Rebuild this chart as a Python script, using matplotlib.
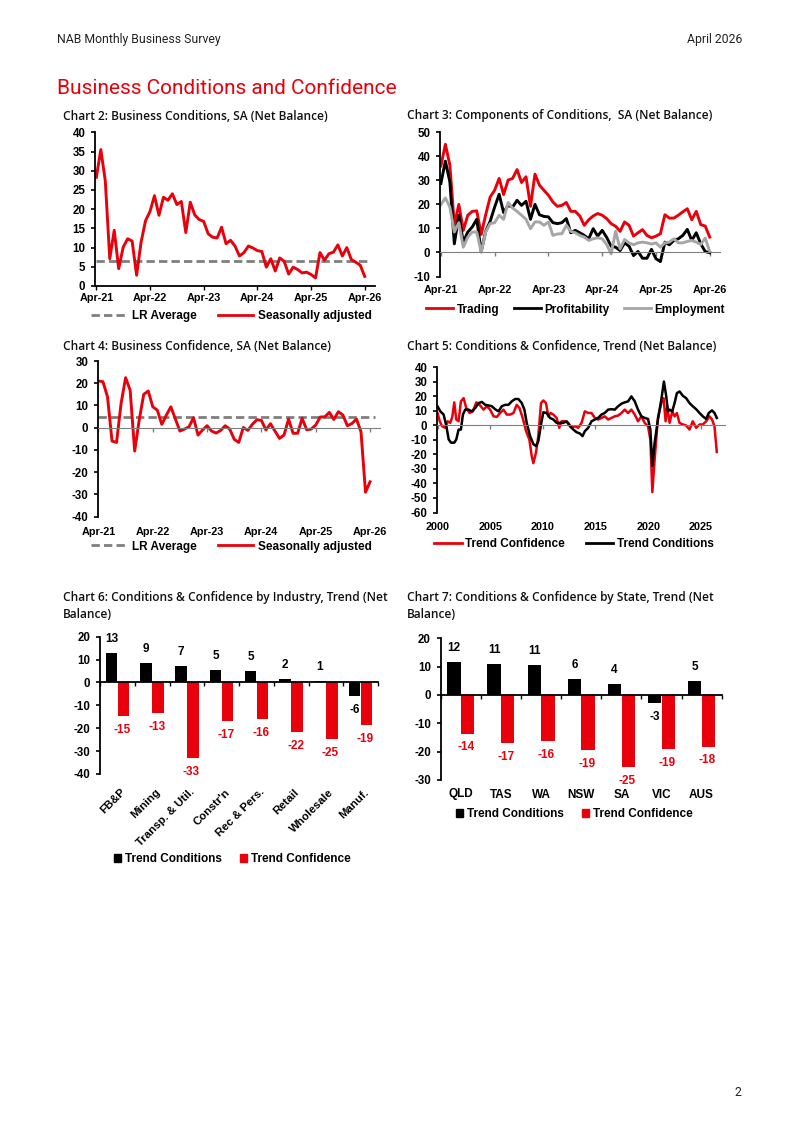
import matplotlib
matplotlib.use('Agg')
import matplotlib.pyplot as plt
import matplotlib.transforms as mtransforms
from matplotlib.lines import Line2D
from matplotlib.patches import Patch
import numpy as np

W, H = 800, 1130
RED = '#e8000b'
GREY = '#7f7f7f'
LIGHT = '#a6a6a6'

# ---- data ----
month_labels = ['Apr-21', 'Apr-22', 'Apr-23', 'Apr-24', 'Apr-25', 'Apr-26']

conditions_sa = [28.3, 35.5, 27.4, 7.1, 14.5, 4.5, 10.1, 12.3, 11.7, 2.8,
                 11.4, 17.0, 19.4, 23.5, 18.4, 23.1, 22.3, 24.0, 21.2, 22.0,
                 13.9, 21.8, 18.5, 17.3, 16.8, 13.6, 12.7, 12.5, 15.3, 11.0,
                 11.9, 10.4, 7.8, 8.7, 10.4, 9.9, 9.2, 9.0, 4.9, 7.1,
                 3.9, 7.3, 6.4, 3.1, 4.9, 4.3, 3.4, 3.6, 3.0, 2.1,
                 8.7, 6.7, 8.4, 8.8, 10.7, 7.8, 10.0, 6.9, 6.2, 5.4,
                 2.5]
conditions_lr_avg = 6.6

trading = [36.0, 45.0, 36.4, 11.3, 20.0, 9.2, 15.5, 17.1, 17.3, 7.5,
           15.7, 23.1, 25.9, 30.8, 24.1, 30.1, 30.8, 34.5, 29.1, 31.5,
           19.2, 32.6, 28.0, 25.9, 23.8, 21.0, 19.2, 19.6, 20.8, 17.1,
           17.1, 15.2, 11.3, 13.6, 15.2, 16.2, 15.5, 14.1, 12.0, 10.9,
           8.8, 12.7, 11.3, 6.8, 8.2, 9.5, 7.1, 6.1, 6.8, 7.8,
           15.7, 14.3, 14.3, 15.5, 16.9, 18.2, 13.6, 17.1, 11.6, 11.0,
           6.4]
profitability = [28.7, 38.0, 29.4, 3.6, 15.5, 4.3, 8.5, 10.6, 13.8, 0.4,
                 8.8, 13.0, 18.9, 24.2, 16.6, 19.6, 18.9, 21.7, 19.6, 21.3,
                 13.8, 20.0, 15.7, 15.0, 14.8, 12.4, 12.0, 12.4, 14.1, 8.2,
                 9.2, 8.2, 7.1, 5.7, 9.9, 6.8, 9.2, 6.3, 2.6, 2.2,
                 0.8, 4.0, 2.6, -1.3, 0.4, -2.4, -2.4, 1.3, -2.6, -3.8,
                 4.3, 3.2, 5.0, 5.7, 7.1, 9.6, 5.0, 8.2, 3.6, 0.4,
                 -0.1]
employment = [19.9, 22.7, 18.9, 8.5, 12.4, 2.2, 6.4, 8.5, 8.5, 0.1,
              8.5, 12.0, 12.4, 15.5, 13.8, 20.8, 18.5, 17.1, 15.5, 13.8,
              9.9, 12.7, 12.7, 11.3, 12.7, 7.1, 7.7, 7.8, 11.3, 8.8,
              8.2, 7.1, 6.4, 5.0, 5.7, 6.1, 5.7, 3.3, -0.6, 8.8,
              1.5, 5.4, 4.0, 3.2, 4.0, 4.3, 4.0, 3.5, 4.0, 2.2,
              4.0, 4.3, 5.7, 4.0, 4.0, 4.6, 5.0, 4.3, 3.3, 6.0,
              0.4]

confidence_sa = [21.0, 20.7, 13.9, -6.0, -6.6, 10.9, 22.5, 16.9, -10.5, 3.4,
                 15.0, 16.5, 9.4, 7.9, 1.5, 5.7, 9.4, 3.9, -1.5, -0.6,
                 0.4, 4.5, -3.3, -1.0, 0.9, -1.5, -2.4, -1.2, 0.9, -0.6,
                 -5.2, -6.6, 0.1, -1.2, 1.5, 3.6, 3.3, -1.0, 1.8, -1.5,
                 -4.8, -3.3, 3.9, -2.5, -2.5, 4.2, -0.9, -0.6, 1.2, 4.8,
                 4.9, 6.9, 3.7, 7.2, 5.7, 0.9, 1.9, 3.9, -1.8, -29.0,
                 -24.3]
confidence_lr_avg = 4.8

trend_year_labels = [2000, 2005, 2010, 2015, 2020, 2025]
trend_conf_years = [2000.0, 2000.21, 2000.43, 2000.74, 2000.96, 2001.21, 2001.40, 2001.59, 2001.78, 2002.0,
                    2002.22, 2002.48, 2002.73, 2003.04, 2003.36, 2003.68, 2003.99, 2004.37, 2004.68, 2005.0,
                    2005.32, 2005.63, 2005.95, 2006.26, 2006.58, 2006.89, 2007.21, 2007.52, 2007.78, 2008.09,
                    2008.41, 2008.72, 2008.94, 2009.10, 2009.35, 2009.57, 2009.83, 2010.05, 2010.30, 2010.52,
                    2010.74, 2011.0, 2011.31, 2011.56, 2011.78, 2012.10, 2012.41, 2012.73, 2013.04, 2013.36,
                    2013.68, 2013.99, 2014.31, 2014.62, 2014.94, 2015.25, 2015.57, 2015.88, 2016.20, 2016.52,
                    2016.83, 2017.15, 2017.47, 2017.78, 2018.10, 2018.41, 2018.73, 2019.04, 2019.36, 2019.67,
                    2019.99, 2020.21, 2020.40, 2020.62, 2020.93, 2021.25, 2021.47, 2021.66, 2021.82, 2022.04,
                    2022.29, 2022.51, 2022.73, 2022.98, 2023.30, 2023.61, 2023.93, 2024.24, 2024.56, 2024.88,
                    2025.19, 2025.51, 2025.82, 2026.07, 2026.30, 2026.52]
trend_conf = [8.4, 2.7, -0.7, -1.8, 2.7, 1.6, 5.7, 15.7, 3.9, 2.7,
              16.4, 18.6, 11.8, 8.4, 9.5, 15.7, 14.0, 10.7, 13.0, 10.7,
              6.1, 5.7, 8.4, 10.7, 7.3, 7.3, 8.4, 14.0, 11.8, 5.0,
              -4.1, -9.8, -21.0, -26.1, -18.9, -7.5, 15.2, 17.0, 15.2, 6.1,
              8.4, 7.3, 5.0, -1.8, 2.7, 2.7, 1.6, -1.8, -0.7, -1.8,
              1.6, 9.5, 8.4, 8.4, 5.0, 3.9, 5.0, 6.1, 3.9, 5.0,
              6.1, 6.6, 8.4, 10.7, 8.4, 10.7, 7.3, 2.7, 6.1, 1.6,
              -0.7, -9.8, -46.0, -23.4, 5.0, 15.2, 18.6, 2.7, 13.0, 1.6,
              9.5, 6.1, 8.4, 1.6, 0.5, -0.2, -3.0, 2.7, -1.8, 0.5,
              0.5, 2.7, 6.1, 3.9, -0.7, -18.4]
trend_cond_years = [2000.0, 2000.27, 2000.58, 2000.84, 2001.06, 2001.28, 2001.59, 2001.78, 2002.0, 2002.22,
                    2002.41, 2002.63, 2002.95, 2003.26, 2003.58, 2003.90, 2004.21, 2004.53, 2004.84, 2005.16,
                    2005.47, 2005.79, 2006.10, 2006.42, 2006.74, 2007.05, 2007.37, 2007.68, 2008.0, 2008.25,
                    2008.47, 2008.79, 2009.10, 2009.35, 2009.57, 2009.83, 2010.05, 2010.36, 2010.68, 2011.0,
                    2011.31, 2011.63, 2011.95, 2012.26, 2012.58, 2012.90, 2013.20, 2013.52, 2013.77, 2013.99,
                    2014.31, 2014.62, 2014.94, 2015.25, 2015.57, 2015.88, 2016.20, 2016.52, 2016.83, 2017.15,
                    2017.47, 2017.78, 2018.10, 2018.41, 2018.73, 2019.04, 2019.36, 2019.67, 2019.99, 2020.21,
                    2020.40, 2020.62, 2020.93, 2021.25, 2021.50, 2021.72, 2021.88, 2022.04, 2022.29, 2022.51,
                    2022.73, 2022.98, 2023.30, 2023.61, 2023.93, 2024.24, 2024.56, 2024.88, 2025.19, 2025.51,
                    2025.76, 2026.07, 2026.30, 2026.52]
trend_cond = [13.0, 9.5, 7.3, -0.7, -9.8, -12.0, -12.0, -9.8, -3.0, -3.0,
              7.3, 10.7, 10.7, 9.5, 11.8, 15.2, 16.0, 14.0, 13.6, 13.0,
              11.0, 9.5, 13.0, 14.0, 14.0, 16.4, 18.0, 18.0, 15.2, 10.7,
              1.6, -7.5, -13.0, -14.3, -11.0, 0.5, 8.9, 8.4, 5.0, 3.9,
              1.6, 1.6, 1.6, 2.7, -0.7, -3.0, -4.8, -5.7, -7.5, -4.1,
              -1.8, 2.7, 3.9, 5.0, 7.3, 8.4, 10.7, 11.0, 10.7, 13.0,
              14.8, 15.7, 16.4, 19.8, 16.4, 10.7, 6.1, 5.0, 4.3, -3.0,
              -28.0, -12.0, 3.9, 17.5, 30.0, 19.8, 9.5, 10.7, 9.5, 15.2,
              22.0, 23.2, 20.2, 18.6, 15.2, 13.0, 11.0, 8.4, 6.1, 4.3,
              8.4, 10.2, 8.4, 5.0]

industries = ['FB&P', 'Mining', 'Transp. & Util.', "Constr'n", 'Rec & Pers.',
              'Retail', 'Wholesale', 'Manuf.']
industry_conditions = [12.8, 8.6, 7.1, 5.4, 5.1, 1.6, 0.6, -5.9]
industry_confidence = [-14.6, -13.4, -33.2, -16.8, -15.8, -21.6, -24.6, -18.8]

states = ['QLD', 'TAS', 'WA', 'NSW', 'SA', 'VIC', 'AUS']
state_conditions = [11.6, 11.1, 10.6, 5.8, 3.9, -2.7, 4.8]
state_confidence = [-13.6, -17.0, -16.2, -19.3, -25.3, -19.1, -18.2]

# ---- page ----
plt.rcParams['font.family'] = ['Liberation Sans', 'DejaVu Sans']
plt.rcParams['font.weight'] = 'bold'
plt.rcParams['axes.unicode_minus'] = False
fig = plt.figure(figsize=(W / 100, H / 100), dpi=100)

LEG_SIZE = 8.5
YTICK_SIZE = 8.3
XTICK_SIZE = 7.8


def px_axes(left, top, right, bottom):
    return fig.add_axes([left / W, 1 - bottom / H, (right - left) / W, (bottom - top) / H])


def fig_text(x, y, s, **kw):
    kw.setdefault('va', 'center')
    fig.text(x / W, 1 - y / H, s, **kw)


def title(x, y, s):
    fig_text(x, y, s, family='Open Sans', fontweight='semibold', fontsize=8.6, color='#111111')


def style(ax, ylo, yhi, ystep, zero_color=None):
    ax.set_ylim(ylo, yhi)
    ax.set_yticks(np.arange(ylo, yhi + 1, ystep))
    ax.spines['top'].set_visible(False)
    ax.spines['right'].set_visible(False)
    ax.spines['left'].set_linewidth(1.3)
    ax.tick_params(axis='y', direction='out', length=3, width=1.2, pad=4, labelsize=YTICK_SIZE)
    ax.tick_params(axis='x', direction='out', length=3, width=1, labelbottom=False)
    ax.patch.set_visible(False)
    if zero_color is not None:
        ax.spines['bottom'].set_position(('data', 0))
        ax.spines['bottom'].set_color(zero_color)
        ax.tick_params(axis='x', color=zero_color)
    else:
        ax.spines['bottom'].set_linewidth(1.3)


def x_labels(ax, positions, labels, ypix, size=XTICK_SIZE):
    trans = mtransforms.blended_transform_factory(ax.transData, fig.transFigure)
    for p, lab in zip(positions, labels):
        ax.text(p, 1 - ypix / H, lab, transform=trans, ha='center', va='center',
                fontsize=size, clip_on=False)


def legend(ax, handles, labels, cx, cy, **kw):
    ax.legend(handles, labels, loc='center', bbox_to_anchor=(cx / W, 1 - cy / H),
              bbox_transform=fig.transFigure, frameon=False, ncol=len(labels),
              prop={'size': LEG_SIZE, 'weight': 'bold'}, borderaxespad=0, borderpad=0, **kw)


fig_text(57, 40, 'NAB Monthly Business Survey', family='Roboto', fontweight='normal',
         fontsize=8.8, color='#222222')
fig_text(742, 40, 'April 2026', family='Roboto', fontweight='normal', fontsize=8.8,
         color='#222222', ha='right')
fig_text(57, 88, 'Business Conditions and Confidence', family='Roboto', fontweight='normal',
         fontsize=15, color=RED)
fig_text(741, 1092, '2', family='Roboto', fontweight='normal', fontsize=8.8, color='#222222', ha='right')

month_ticks = np.arange(0, 61, 12)

# Chart 2
title(63, 116, 'Chart 2: Business Conditions, SA (Net Balance)')
ax2 = px_axes(95, 132.3, 375, 286)
x = np.arange(len(conditions_sa))
ax2.plot([x[0], x[-1] + 1], [conditions_lr_avg] * 2, color=GREY, lw=2, dashes=(3, 1.5))
ax2.plot(x, conditions_sa, color=RED, lw=2.1)
ax2.set_xlim(-0.3, 62.3)
style(ax2, 0, 40, 5)
ax2.set_xticks(month_ticks)
x_labels(ax2, month_ticks, month_labels, 298)
legend(ax2, [Line2D([], [], color=GREY, lw=2, dashes=(3, 1.5)), Line2D([], [], color=RED, lw=2)],
       ['LR Average', 'Seasonally adjusted'], 231.5, 316.5,
       handlelength=3.0, handletextpad=0.4, columnspacing=1.8)

# Chart 3
title(407, 116, 'Chart 3: Components of Conditions,  SA (Net Balance)')
ax3 = px_axes(440, 132.3, 720, 276.5)
x = np.arange(len(trading))
ax3.plot(x, trading, color=RED, lw=2.1)
ax3.plot(x, profitability, color='black', lw=2.1)
ax3.plot(x, employment, color=LIGHT, lw=2.1)
ax3.set_xlim(-0.2, 62.3)
style(ax3, -10, 50, 10, zero_color=GREY)
ax3.set_xticks(month_ticks)
x_labels(ax3, month_ticks, month_labels, 289.5)
legend(ax3, [Line2D([], [], color=c, lw=2) for c in (RED, 'black', LIGHT)],
       ['Trading', 'Profitability', 'Employment'], 575.5, 309.5,
       handlelength=2.3, handletextpad=0.3, columnspacing=1.2)

# Chart 4
title(63, 346, 'Chart 4: Business Confidence, SA (Net Balance)')
ax4 = px_axes(98, 361, 380, 516.7)
x = np.arange(len(confidence_sa))
ax4.plot([x[0], x[-1] + 1], [confidence_lr_avg] * 2, color=GREY, lw=2, dashes=(3, 1.5))
ax4.plot(x, confidence_sa, color=RED, lw=2.1)
ax4.set_xlim(-0.1, 62.2)
style(ax4, -40, 30, 10, zero_color=GREY)
ax4.set_xticks(month_ticks)
x_labels(ax4, month_ticks, month_labels, 532)
legend(ax4, [Line2D([], [], color=GREY, lw=2, dashes=(3, 1.5)), Line2D([], [], color=RED, lw=2)],
       ['LR Average', 'Seasonally adjusted'], 231.5, 546.5,
       handlelength=3.0, handletextpad=0.4, columnspacing=1.8)

# Chart 5
title(407, 346, 'Chart 5: Conditions & Confidence, Trend (Net Balance)')
ax5 = px_axes(437, 367, 725, 512.5)
ax5.plot(trend_conf_years, trend_conf, color=RED, lw=1.8)
ax5.plot(trend_cond_years, trend_cond, color='black', lw=1.8)
ax5.set_xlim(1999.95, 2027.3)
style(ax5, -60, 40, 10, zero_color=GREY)
ax5.set_xticks(trend_year_labels)
x_labels(ax5, trend_year_labels, [str(y) for y in trend_year_labels], 527)
legend(ax5, [Line2D([], [], color=RED, lw=2), Line2D([], [], color='black', lw=2)],
       ['Trend Confidence', 'Trend Conditions'], 574, 544,
       handlelength=2.3, handletextpad=0.3, columnspacing=1.8)


def bar_chart(ax, cats, cond, conf, width=0.33, off=0.17):
    pos = np.arange(len(cats))
    ax.bar(pos - off, cond, width, color='black', zorder=2)
    ax.bar(pos + off, conf, width, color=RED, zorder=2)
    ax.set_xlim(-0.5, len(cats) - 0.5)
    for p, v in zip(pos, cond):
        ax.annotate(f'{round(v):.0f}', (p - off, v), xytext=(0, 10 if v >= 0 else -10),
                    textcoords='offset points', ha='center', va='center', fontsize=8.5,
                    color='black', annotation_clip=False)
    for p, v in zip(pos, conf):
        ax.annotate(f'{round(v):.0f}', (p + off, v), xytext=(-1, -10),
                    textcoords='offset points', ha='center', va='center', fontsize=8.5,
                    color=RED, annotation_clip=False)
    ax.set_xticks(np.arange(-0.5, len(cats)))
    return pos


bar_handles = [Patch(color='black'), Patch(color=RED)]

# Chart 6
title(63, 597.7, 'Chart 6: Conditions & Confidence by Industry, Trend (Net')
title(63, 614.3, 'Balance)')
ax6 = px_axes(100, 636.7, 378, 774)
pos = bar_chart(ax6, industries, industry_conditions, industry_confidence)
style(ax6, -40, 20, 10, zero_color='black')
ax6.spines['bottom'].set_linewidth(1.3)
trans = mtransforms.blended_transform_factory(ax6.transData, fig.transFigure)
for p, lab in zip(pos, industries):
    ax6.text(p + 0.08, 1 - 787 / H, lab, transform=trans, rotation=45, rotation_mode='anchor',
             ha='right', va='top', fontsize=8.2, clip_on=False)
legend(ax6, bar_handles, ['Trend Conditions', 'Trend Confidence'], 232.5, 859,
       handlelength=0.6, handleheight=0.6, handletextpad=0.35, columnspacing=1.5)

# Chart 7
title(407, 597.7, 'Chart 7: Conditions & Confidence by State, Trend (Net')
title(407, 614.3, 'Balance)')
ax7 = px_axes(440.7, 638.3, 721.7, 780)
pos = bar_chart(ax7, states, state_conditions, state_confidence)
style(ax7, -30, 20, 10, zero_color='black')
ax7.spines['bottom'].set_linewidth(1.3)
x_labels(ax7, pos, states, 794.5, size=8.5)
legend(ax7, bar_handles, ['Trend Conditions', 'Trend Confidence'], 574.5, 814,
       handlelength=0.6, handleheight=0.6, handletextpad=0.35, columnspacing=1.5)

fig.savefig('out.png', dpi=100)
